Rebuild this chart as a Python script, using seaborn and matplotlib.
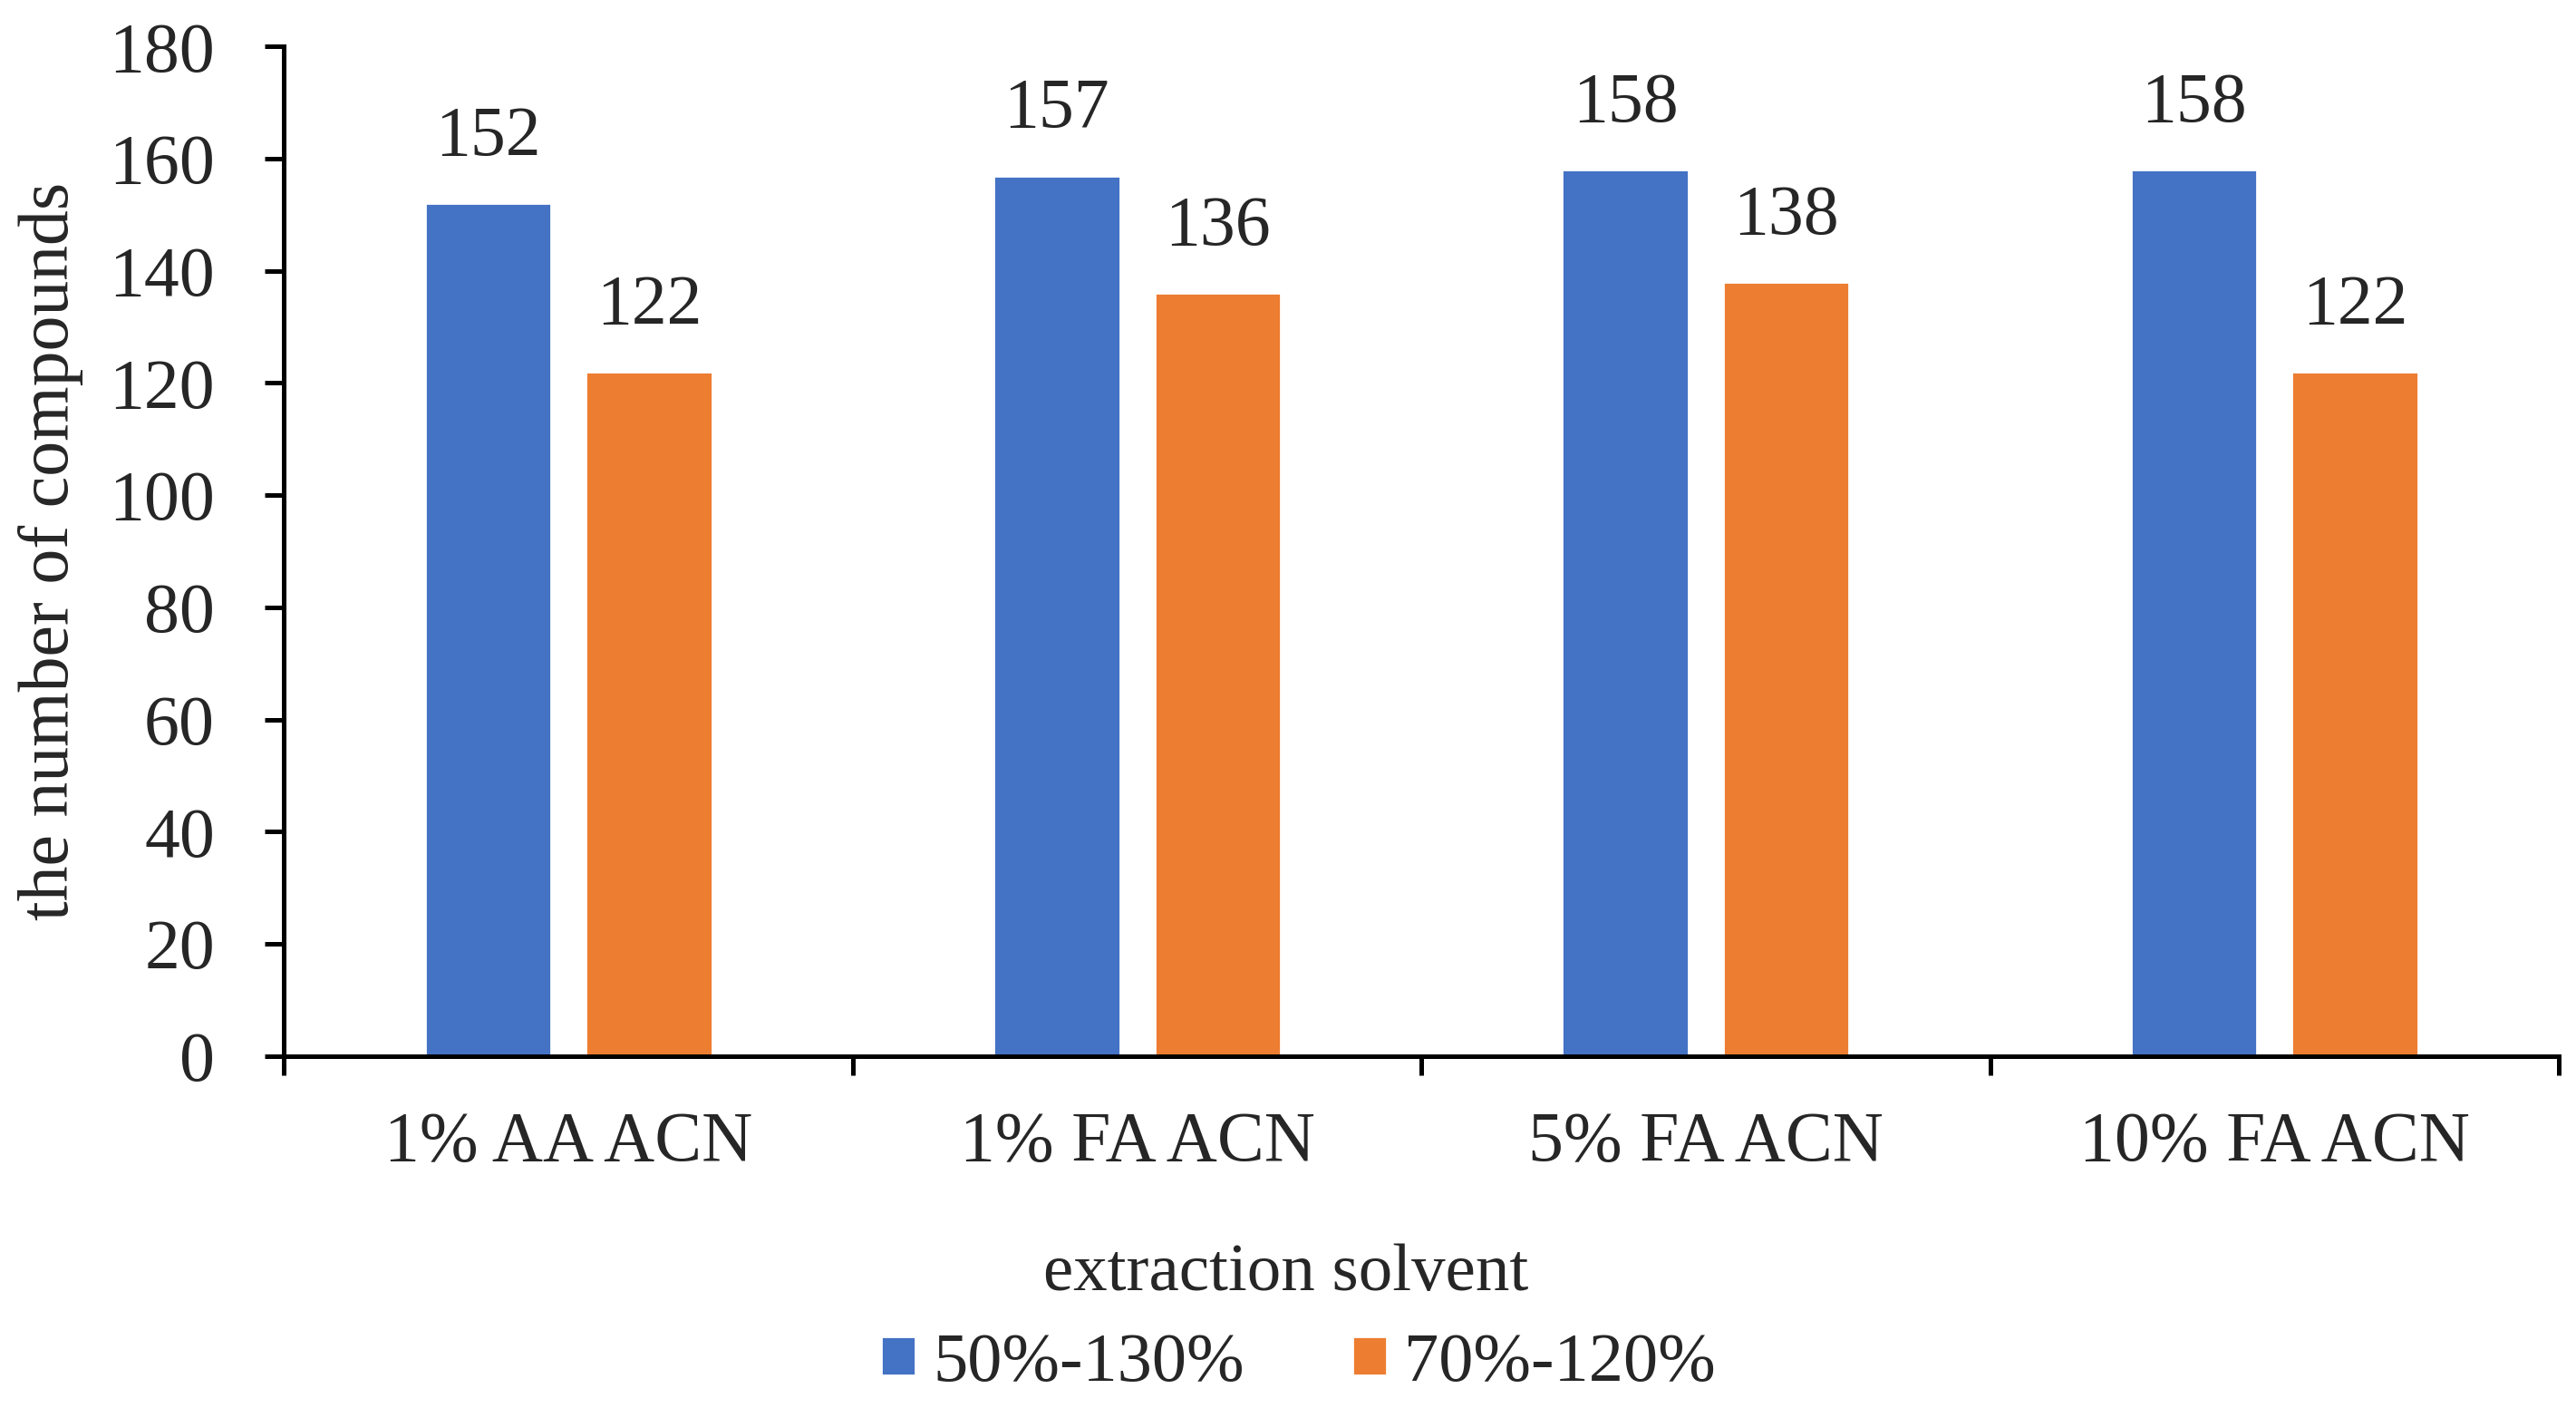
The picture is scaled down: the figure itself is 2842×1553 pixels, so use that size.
import pandas as pd
import matplotlib.pyplot as plt
import seaborn as sns
from matplotlib.patches import Patch
from matplotlib.ticker import FixedLocator

solvents = ['1% AA ACN', '1% FA ACN', '5% FA ACN', '10% FA ACN']
series = ['50%-130%', '70%-120%']
counts_50_130 = [152, 157, 158, 158]
counts_70_120 = [122, 136, 138, 122]
colors = ['#4472C4', '#ED7D31']

df = pd.DataFrame({
    'solvent': solvents * 2,
    'range': [series[0]] * 4 + [series[1]] * 4,
    'count': counts_50_130 + counts_70_120,
})

sns.set_style('white')
plt.rcParams['font.family'] = ['Liberation Serif', 'DejaVu Serif']

fig = plt.figure(figsize=(14.21, 7.765), dpi=200)
ax = fig.add_axes([0.1103, 0.250, 0.883, 0.717])

sns.barplot(data=df, x='solvent', y='count', hue='range', order=solvents,
            hue_order=series, palette=colors, width=0.566, gap=0.214,
            saturation=1, legend=False, ax=ax)

for cont in ax.containers:
    ax.bar_label(cont, padding=13, fontsize=28)

ax.set_ylim(0, 180)
ax.set_yticks(range(0, 181, 20))
ax.set_xlim(-0.5, 3.5)
ax.xaxis.set_minor_locator(FixedLocator([-0.5, 0.5, 1.5, 2.5, 3.5]))

for s in ['top', 'right']:
    ax.spines[s].set_visible(False)
for s in ['left', 'bottom']:
    ax.spines[s].set_linewidth(1.8)
    ax.spines[s].set_color('black')

ax.tick_params(axis='y', which='major', length=7.5, width=1.8, pad=20,
               labelsize=28, left=True, color='black')
ax.tick_params(axis='x', which='major', length=0, pad=22, labelsize=28)
ax.tick_params(axis='x', which='minor', length=7.5, width=1.8, bottom=True,
               color='black')

ax.set_ylabel('the number of compounds', fontsize=28, labelpad=10)
ax.set_xlabel('extraction solvent', fontsize=27)
ax.xaxis.set_label_coords(0.499, 0.117, transform=fig.transFigure)

handles = [Patch(facecolor=c, label=l) for c, l in zip(colors, series)]
fig.legend(handles=handles, loc='center', bbox_to_anchor=(0.504, 0.0315),
           ncol=2, frameon=False, fontsize=27.5, handlelength=0.5,
           handleheight=0.5, handletextpad=0.25, columnspacing=1.55)

fig.savefig('out.png', dpi=200)
